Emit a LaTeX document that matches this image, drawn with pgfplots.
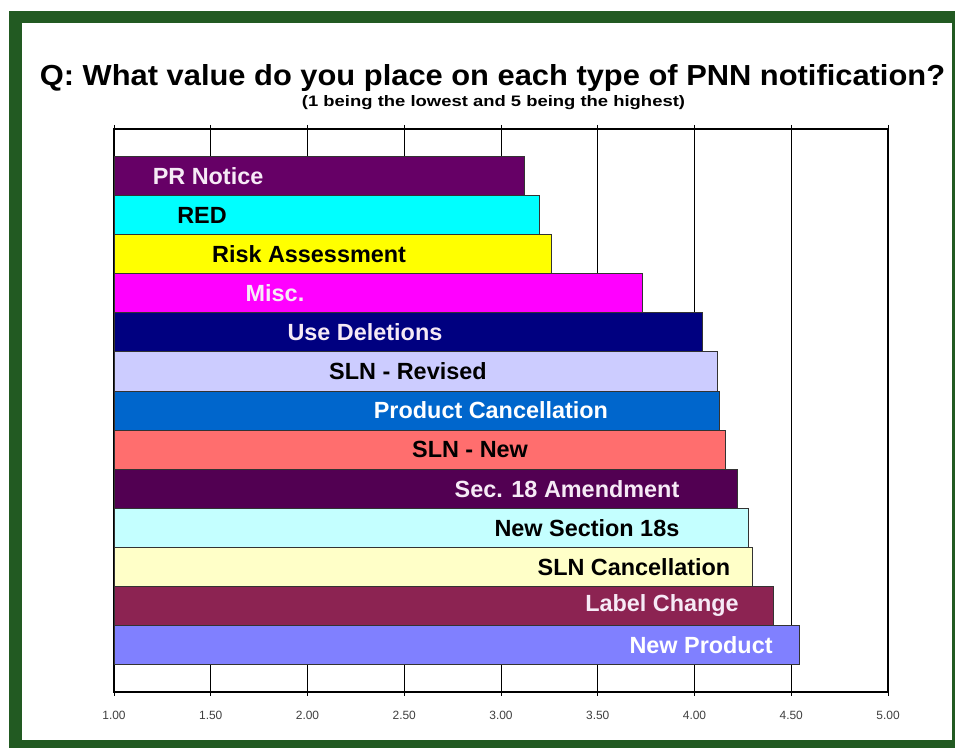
\documentclass[border=0pt]{standalone}
\usepackage{pgfplots}
\pgfplotsset{compat=1.18}
\usepackage{fontspec}
\setmainfont{Liberation Sans}
\definecolor{framegreen}{HTML}{225A22}
\definecolor{cPR}{HTML}{660066}
\definecolor{cRED}{HTML}{00FFFF}
\definecolor{cRisk}{HTML}{FFFF00}
\definecolor{cMisc}{HTML}{FF00FF}
\definecolor{cUse}{HTML}{000080}
\definecolor{cSLNR}{HTML}{CCCCFF}
\definecolor{cProdC}{HTML}{0066CC}
\definecolor{cSLNN}{HTML}{FF6E6E}
\definecolor{cSec}{HTML}{520052}
\definecolor{cNS}{HTML}{C4FFFF}
\definecolor{cSLNC}{HTML}{FFFFC8}
\definecolor{cLabel}{HTML}{8C2352}
\definecolor{cNew}{HTML}{8080FF}
\definecolor{lighttxt}{HTML}{F6EAF6}
\pgfplotsset{
  layers/mylayers/.define layer set={axis background,axis grid,main,axis ticks,axis lines,axis tick labels,axis descriptions,axis foreground}{},
}
\newcommand{\barlbl}[4]{\node[font=\fontsize{23.5}{27}\selectfont\bfseries, text=#4, inner sep=0] at (axis cs:#1,#2) {#3};}
\begin{document}
\begin{tikzpicture}[x=1bp,y=1bp]
\fill[white] (0,0) rectangle (955,748);
\fill[framegreen] (9,0) rectangle (955,737);
\fill[white] (22,8) rectangle (952,725);
\node[anchor=base, inner sep=0] at (492.5,662) {\resizebox{905bp}{21bp}{\bfseries Q: What value do you place on each type of PNN notification?}};
\node[anchor=base, inner sep=0] at (493.5,641) {\resizebox{383bp}{11bp}{\bfseries (1 being the lowest and 5 being the highest)}};
\begin{axis}[
  set layers=mylayers,
  at={(114bp,56bp)}, anchor=south west,
  width=774bp, height=563bp, scale only axis,
  xmin=1, xmax=5, ymin=-1.2, ymax=13.2,
  xtick={1,1.5,...,5},
  ytick=\empty,
  xmajorgrids,
  grid style={black, line width=0.9bp},
  axis line style={black, line width=2.2bp},
  tick align=outside,
  major tick length=4bp,
  tick style={black, line width=1bp},
  xticklabel style={font=\fontsize{12}{14}\selectfont, text=black!75, yshift=-12bp},
  /pgf/number format/.cd, fixed, fixed zerofill, precision=2, assume math mode=true,
  /pgfplots/.cd,
  xbar, bar width=1, bar shift=0pt,
  every axis plot/.append style={draw=black!80, line width=0.8bp},
]
\addplot[fill=cNew]   coordinates {(4.54,0)};
\addplot[fill=cLabel] coordinates {(4.41,1)};
\addplot[fill=cSLNC]  coordinates {(4.30,2)};
\addplot[fill=cNS]    coordinates {(4.28,3)};
\addplot[fill=cSec]   coordinates {(4.22,4)};
\addplot[fill=cSLNN]  coordinates {(4.16,5)};
\addplot[fill=cProdC] coordinates {(4.13,6)};
\addplot[fill=cSLNR]  coordinates {(4.12,7)};
\addplot[fill=cUse]   coordinates {(4.04,8)};
\addplot[fill=cMisc]  coordinates {(3.73,9)};
\addplot[fill=cRisk]  coordinates {(3.26,10)};
\addplot[fill=cRED]   coordinates {(3.20,11)};
\addplot[fill=cPR]    coordinates {(3.12,12)};
\barlbl{1.486}{12}{PR Notice}{lighttxt}
\barlbl{1.455}{11}{RED}{black}
\barlbl{2.008}{10}{Risk Assessment}{black}
\barlbl{1.832}{9}{Misc.}{lighttxt}
\barlbl{2.297}{8}{Use Deletions}{lighttxt}
\barlbl{2.519}{7}{SLN - Revised}{black}
\barlbl{2.948}{6}{Product Cancellation}{white}
\barlbl{2.840}{5}{SLN - New}{black}
\barlbl{3.341}{4}{Sec. 18 Amendment}{lighttxt}
\barlbl{3.444}{3}{New Section 18s}{black}
\barlbl{3.687}{2}{SLN Cancellation}{black}
\barlbl{3.832}{1}{Label Change}{lighttxt}
\barlbl{4.034}{0}{New Product}{white}
\end{axis}
\end{tikzpicture}
\end{document}
